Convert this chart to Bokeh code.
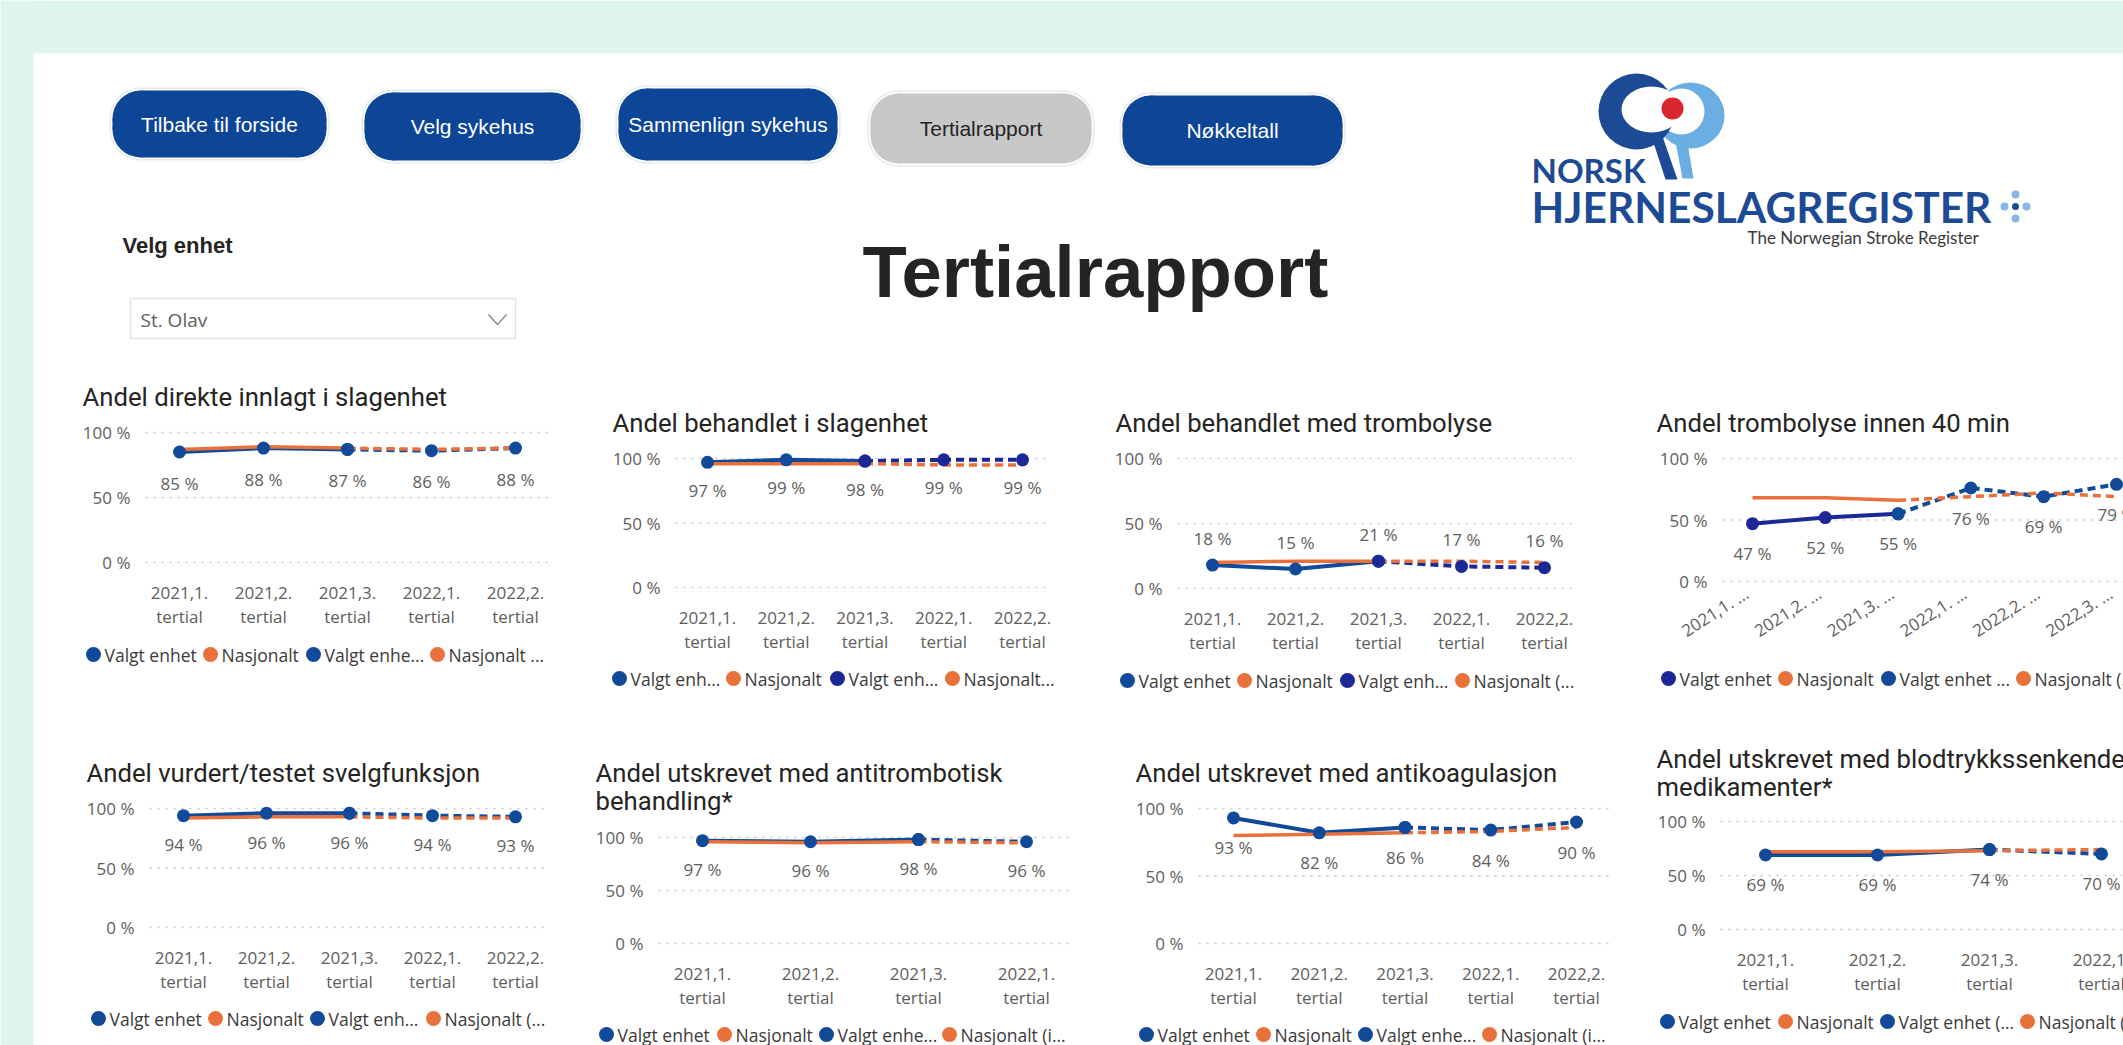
from bokeh.plotting import figure
from bokeh.models import Range1d
from bokeh.core.properties import value
from bokeh.embed import file_html
from bokeh.resources import INLINE

# ---------------- data ----------------
tertialer = ["2021,1.", "2021,2.", "2021,3.", "2022,1.", "2022,2.", "2022,3."]
tertial_word = "tertial"

direkte_valgt = [85, 88, 87, 86, 88]
direkte_nasj = [87, 89, 88, 87, 88]
slagenhet_valgt = [97, 99, 98, 99, 99]
slagenhet_nasj = [96, 96, 96, 95, 95]
trombolyse_valgt = [18, 15, 21, 17, 16]
trombolyse_nasj = [20, 21, 21, 21, 20]
tromb40_valgt = [47, 52, 55, 76, 69, 79]
tromb40_nasj = [68, 68, 66, 69, 72, 69]
svelg_valgt = [94, 96, 96, 94, 93]
svelg_nasj = [92, 93, 93, 92, 92]
antitromb_valgt = [97, 96, 98, 96]
antitromb_nasj = [96, 95, 96, 95]
antikoag_valgt = [93, 82, 86, 84, 90]
antikoag_nasj = [80, 81, 82, 83, 86]
blodtrykk_valgt = [69, 69, 74, 70]
blodtrykk_nasj = [72, 72, 73, 74]
last_complete = 2   # solid line up to this tertial, dashed afterwards

y_ticks = [0, 50, 100]
y_tick_labels = ["0 %", "50 %", "100 %"]

nav_buttons = ["Tilbake til forside", "Velg sykehus", "Sammenlign sykehus", "Tertialrapport", "Nøkkeltall"]
nav_active = [False, False, False, True, False]

# ---------------- style ----------------
W, H = 2123, 1045
MINT = "#dff5ef"
BLUE = "#124a9a"
NAVY = "#1c2896"
ORANGE = "#e8703a"
GREY = "#605e5c"
DARK = "#252423"
GRID = "#c8c6c4"
BTN = "#0d4597"
LOGO_BLUE = "#1d4a94"
LOGO_LIGHT = "#6aaee3"

P = figure(width=W, height=H, x_range=Range1d(0, W), y_range=Range1d(H, 0),
           x_axis_type=None, y_axis_type=None, output_backend="svg", toolbar_location=None,
           title=None, min_border=0, outline_line_color=None,
           background_fill_color="white", border_fill_color="white")

# page background
P.quad(left=[0, 0], right=[W, 33], top=[0, 0], bottom=[53, H], fill_color=MINT, line_color=None)


# ---------------- header ----------------
def rounded(l, r, t, b, rad, color):
    P.quad(left=[l + rad], right=[r - rad], top=[t], bottom=[b], fill_color=color, line_color=None)
    P.quad(left=[l], right=[r], top=[t + rad], bottom=[b - rad], fill_color=color, line_color=None)
    P.circle(x=[l + rad, r - rad, l + rad, r - rad], y=[t + rad, t + rad, b - rad, b - rad],
             radius=rad, fill_color=color, line_color=None)


btn_l = [112, 364, 618, 870, 1122]
btn_r = [326, 580, 837, 1091, 1342]
btn_t = [90, 92, 88, 93, 95]
btn_b = [157, 160, 160, 163, 165]
for i in range(len(nav_buttons)):
    rounded(btn_l[i] - 3, btn_r[i] + 3, btn_t[i] - 3, btn_b[i] + 3, 31, "#e9ecef")
    rounded(btn_l[i] - 1.5, btn_r[i] + 1.5, btn_t[i] - 1.5, btn_b[i] + 1.5, 29.5, "white")
    rounded(btn_l[i], btn_r[i], btn_t[i], btn_b[i], 28, "#c8c8c8" if nav_active[i] else BTN)
P.text(x=[(a + b) / 2 for a, b in zip(btn_l, btn_r)], y=[(a + b) / 2 for a, b in zip(btn_t, btn_b)],
       text=nav_buttons, text_align="center", text_baseline="middle",
       text_font=value("Liberation Sans"), text_font_size="21px",
       text_color=[DARK if a else "white" for a in nav_active])

P.text(x=[122], y=[245], text=["Velg enhet"], text_align="left", text_baseline="middle",
       text_font=value("Liberation Sans"), text_font_style="bold", text_font_size="22px", text_color=DARK)
P.quad(left=[130], right=[515], top=[298], bottom=[338], fill_color="white", line_color="#e3e3e3", line_width=1.5)
P.text(x=[140], y=[319], text=["St. Olav"], text_align="left", text_baseline="middle",
       text_font=value("Open Sans"), text_font_size="19px", text_color=GREY)
P.line(x=[488, 497, 506], y=[314, 324, 314], line_color="#8a8886", line_width=1.3)
P.text(x=[862], y=[271], text=["Tertialrapport"], text_align="left", text_baseline="middle",
       text_font=value("Liberation Sans"), text_font_style="bold", text_font_size="72.5px", text_color=DARK)

# logo
P.ellipse(x=[1690], y=[115], width=68, height=66, fill_color=LOGO_LIGHT, line_color=None)
P.ellipse(x=[1681], y=[111], width=46, height=46, fill_color="white", line_color=None)
P.ellipse(x=[1636], y=[111], width=76, height=76, fill_color=LOGO_BLUE, line_color=None)
P.ellipse(x=[1651], y=[109], width=60, height=46, fill_color="white", line_color=None)
P.circle(x=[1672], y=[108], radius=11, fill_color="#d9252b", line_color=None)
P.patch(x=[1650, 1661, 1677, 1665], y=[133, 133, 179, 179], fill_color=LOGO_BLUE, line_color=None)
P.patch(x=[1674, 1686, 1693, 1682], y=[136, 136, 178, 178], fill_color=LOGO_LIGHT, line_color=None)
P.text(x=[1531], y=[169], text=["NORSK"], text_baseline="middle", text_font=value("Lato"),
       text_font_style="bold", text_font_size="33px", text_color=LOGO_BLUE)
P.text(x=[1531], y=[206], text=["HJERNESLAGREGISTER"], text_baseline="middle", text_font=value("Lato"),
       text_font_style="bold", text_font_size="42.5px", text_color=LOGO_BLUE)
P.text(x=[1747], y=[237], text=["The Norwegian Stroke Register"], text_baseline="middle",
       text_font=value("Lato"), text_font_size="17px", text_color="#3a3a3a")
P.circle(x=[2015, 2015, 2004, 2026], y=[194, 218, 206, 206], radius=4, fill_color="#8ab8e6", line_color=None)
P.circle(x=[2015], y=[206], radius=3.5, fill_color=LOGO_BLUE, line_color=None)

FONT = value("Open Sans")


# ---------------- charts ----------------
def chart(key, title_lines, title_x, title_mid, valgt, nasj, geo,
          leg_y, leg_x, leg_txt, leg_cols, solid_c, dash_c, lab_off, rotate=False):
    gl, gr, y100, y0, c0, sp = geo
    ppu = (y0 - y100) / 100.0
    xr, yr = "x" + key, "y" + key
    P.extra_x_ranges[xr] = Range1d(-c0 / sp, (W - c0) / sp)
    P.extra_y_ranges[yr] = Range1d((y0 - H) / ppu, y0 / ppu)
    n = len(valgt)
    xs = list(range(n))
    cats = tertialer[:n]

    # dotted value grid + value-axis labels
    P.segment(x0=[gl] * 3, x1=[gr] * 3, y0=y_ticks, y1=y_ticks, y_range_name=yr,
              line_color=GRID, line_dash="2 6", line_width=1.5)
    P.text(x=[gl - 15] * 3, y=y_ticks, text=y_tick_labels, y_range_name=yr,
           text_align="right", text_baseline="middle", text_font=FONT, text_font_size="17px",
           text_color=GREY)
    # category-axis labels
    if rotate:
        P.text(x=xs, y=[0] * n, text=[c + " ..." for c in cats], x_range_name=xr, y_range_name=yr,
               x_offset=-6, y_offset=10, angle=0.57, text_align="right", text_baseline="middle",
               text_font=FONT, text_font_size="17px", text_color=GREY)
    else:
        P.text(x=xs, y=[0] * n, text=cats, x_range_name=xr, y_range_name=yr, y_offset=30,
               text_align="center", text_baseline="middle", text_font=FONT, text_font_size="17px",
               text_color=GREY)
        P.text(x=xs, y=[0] * n, text=[tertial_word] * n, x_range_name=xr, y_range_name=yr, y_offset=54,
               text_align="center", text_baseline="middle", text_font=FONT, text_font_size="17px",
               text_color=GREY)

    k = last_complete
    kw = dict(x_range_name=xr, y_range_name=yr)
    P.line(xs[:k + 1], valgt[:k + 1], line_color=solid_c, line_width=4, line_join="round", **kw)
    P.line(xs[k:], valgt[k:], line_color=dash_c, line_width=4, line_dash="8 5", **kw)
    P.line(xs[:k + 1], nasj[:k + 1], line_color=ORANGE, line_width=3.5, line_join="round", **kw)
    P.line(xs[k:], nasj[k:], line_color=ORANGE, line_width=3.5, line_dash="8 5", **kw)
    P.scatter(xs[:k + 1], valgt[:k + 1], size=13, fill_color=solid_c, line_color=None, **kw)
    P.scatter(xs[k:], valgt[k:], size=13, fill_color=dash_c, line_color=None, **kw)
    P.text(x=xs, y=valgt, text=[f"{v} %" for v in valgt], y_offset=lab_off,
           text_align="center", text_baseline="middle", text_font=FONT,
           text_font_size="17px", text_color=GREY, **kw)

    # title
    P.text(x=[title_x] * len(title_lines), y=title_mid, text=title_lines, text_align="left",
           text_baseline="middle", text_font=value("Roboto"), text_font_size="25.7px", text_color=DARK)
    # legend
    P.scatter(x=leg_x, y=[leg_y] * len(leg_x), size=15, fill_color=leg_cols, line_color=None)
    P.text(x=[v + 11 for v in leg_x], y=[leg_y] * len(leg_x), text=leg_txt, text_align="left",
           text_baseline="middle", text_font=FONT, text_font_size="17.5px", text_color="#3b3a39")


chart("1", ["Andel direkte innlagt i slagenhet"], 82, [396], direkte_valgt, direkte_nasj,
      (145, 548, 432, 562, 179, 84), 654, [93, 210, 313, 437],
      ["Valgt enhet", "Nasjonalt", "Valgt enhe...", "Nasjonalt ..."], [BLUE, ORANGE, BLUE, ORANGE],
      BLUE, BLUE, 31)
chart("2", ["Andel behandlet i slagenhet"], 612, [422], slagenhet_valgt, slagenhet_nasj,
      (675, 1050, 458, 587, 707, 78.75), 678, [619, 733, 837, 952],
      ["Valgt enh...", "Nasjonalt", "Valgt enh...", "Nasjonalt..."], [BLUE, ORANGE, NAVY, ORANGE],
      BLUE, NAVY, 28)
chart("3", ["Andel behandlet med trombolyse"], 1115, [422], trombolyse_valgt, trombolyse_nasj,
      (1177, 1572, 458, 588, 1212, 83), 680, [1127, 1244, 1347, 1462],
      ["Valgt enhet", "Nasjonalt", "Valgt enh...", "Nasjonalt (..."], [BLUE, ORANGE, NAVY, ORANGE],
      BLUE, NAVY, -27)
chart("4", ["Andel trombolyse innen 40 min"], 1656, [422], tromb40_valgt, tromb40_nasj,
      (1722, W, 458, 581, 1752, 72.8), 678, [1668, 1785, 1888, 2023],
      ["Valgt enhet", "Nasjonalt", "Valgt enhet ...", "Nasjonalt (..."], [NAVY, ORANGE, BLUE, ORANGE],
      NAVY, BLUE, 30, rotate=True)
chart("5", ["Andel vurdert/testet svelgfunksjon"], 86, [772], svelg_valgt, svelg_nasj,
      (149, 543, 808, 927, 183, 83), 1018, [98, 215, 317, 433],
      ["Valgt enhet", "Nasjonalt", "Valgt enh...", "Nasjonalt (..."], [BLUE, ORANGE, BLUE, ORANGE],
      BLUE, BLUE, 29)
chart("6", ["Andel utskrevet med antitrombotisk", "behandling*"], 595, [772, 800],
      antitromb_valgt, antitromb_nasj,
      (658, 1070, 837, 943, 702, 108), 1034, [606, 724, 826, 949],
      ["Valgt enhet", "Nasjonalt", "Valgt enhe...", "Nasjonalt (i..."], [BLUE, ORANGE, BLUE, ORANGE],
      BLUE, BLUE, 29)
chart("7", ["Andel utskrevet med antikoagulasjon"], 1135, [772], antikoag_valgt, antikoag_nasj,
      (1198, 1610, 808, 943, 1233, 85.75), 1034, [1146, 1263, 1365, 1489],
      ["Valgt enhet", "Nasjonalt", "Valgt enhe...", "Nasjonalt (i..."], [BLUE, ORANGE, BLUE, ORANGE],
      BLUE, BLUE, 30)
chart("8", ["Andel utskrevet med blodtrykkssenkende", "medikamenter*"], 1656, [758, 786],
      blodtrykk_valgt, blodtrykk_nasj,
      (1720, W, 821, 929, 1765, 112), 1021, [1667, 1785, 1887, 2027],
      ["Valgt enhet", "Nasjonalt", "Valgt enhet (...", "Nasjonalt (..."], [BLUE, ORANGE, BLUE, ORANGE],
      BLUE, BLUE, 30)

open("out.html", "w").write(file_html(P, INLINE))
